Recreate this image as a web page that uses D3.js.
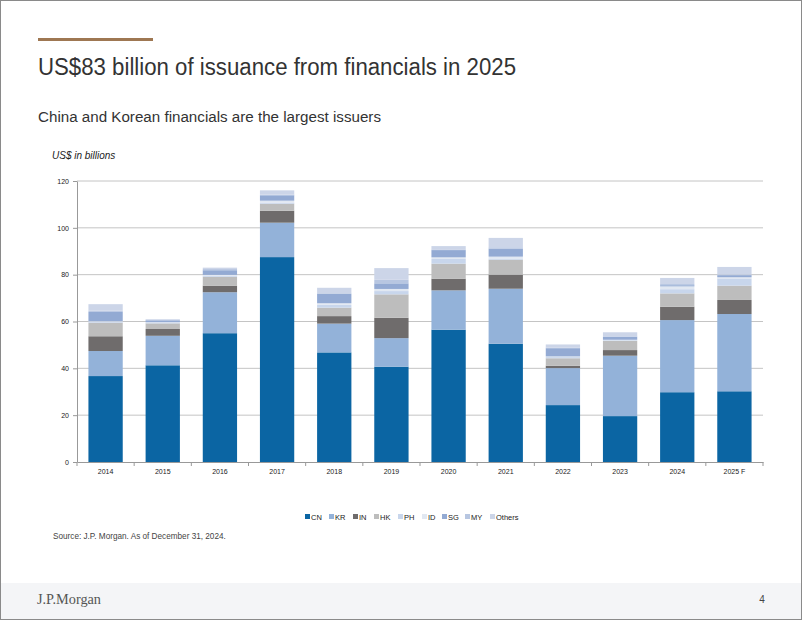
<!DOCTYPE html>
<html><head><meta charset="utf-8">
<script src="https://cdn.jsdelivr.net/npm/d3@7"></script>
<style>
html,body{margin:0;padding:0;background:#fff;}
svg{display:block;}
</style></head>
<body>
<script>
const years = ["2014","2015","2016","2017","2018","2019","2020","2021","2022","2023","2024","2025 F"];
const seriesNames = ["CN","KR","IN","HK","PH","ID","SG","MY","Others"];
const CN     = [36.7, 41.3, 55.0, 87.5, 46.8, 40.7, 56.5, 50.5, 24.3, 19.6, 29.8, 30.2];
const KR     = [10.7, 12.6, 17.5, 14.7, 12.3, 12.2, 16.8, 23.5, 15.8, 25.8, 30.8, 33.0];
const IN     = [ 6.3,  2.9,  2.8,  5.1,  3.2,  8.7,  5.0,  6.0,  1.0,  2.4,  5.7,  6.0];
const HK     = [ 5.8,  2.4,  3.8,  3.0,  3.6, 10.0,  6.4,  6.4,  3.2,  3.9,  5.7,  6.1];
const PH     = [ 0.3,  0.3,  0.5,  0.5,  1.2,  1.4,  2.0,  0.5,  0.5,  0.3,  1.8,  3.1];
const ID     = [ 0.3,  0.2,  0.3,  0.8,  0.7,  0.9,  0.7,  0.8,  0.3,  0.2,  1.2,  0.5];
const SG     = [ 4.0,  0.8,  2.0,  2.3,  4.0,  2.4,  3.1,  3.4,  3.5,  1.3,  0.5,  0.9];
const MY     = [ 0.5,  0.2,  0.5,  0.3,  0.3,  1.5,  0.3,  0.6,  0.3,  0.2,  0.5,  0.3];
const Others = [ 2.8,  0.3,  0.6,  1.8,  2.3,  5.0,  1.4,  4.0,  1.3,  1.7,  2.6,  3.2];
const yTicks = [0,20,40,60,80,100,120];

const colors = ["#0b65a3","#93b2d9","#6f6c6c","#bdbdbd","#c8d6ec","#e1e8f2","#93aad3","#b7c6e1","#ccd5e8"];

const W = 802, H = 620;
const svg = d3.select("body").append("svg").attr("width", W).attr("height", H);

// page
svg.append("rect").attr("x",0).attr("y",0).attr("width",W).attr("height",H).attr("fill","#fff");
svg.append("rect").attr("x",0).attr("y",583).attr("width",W).attr("height",37).attr("fill","#f4f5f7");
svg.append("rect").attr("x",0.5).attr("y",0.5).attr("width",W-1).attr("height",H-1)
   .attr("fill","none").attr("stroke","#8a8a8a").attr("stroke-width",1);

svg.append("rect").attr("x",38).attr("y",38).attr("width",115).attr("height",3).attr("fill","#9e7752");
svg.append("text").attr("x",38).attr("y",75).text("US$83 billion of issuance from financials in 2025")
  .attr("font-family","Liberation Sans, Arial, sans-serif").attr("font-size",23).attr("fill","#333")
  .attr("textLength",478).attr("lengthAdjust","spacingAndGlyphs");
svg.append("text").attr("x",38).attr("y",122).text("China and Korean financials are the largest issuers")
  .attr("font-family","Liberation Sans, Arial, sans-serif").attr("font-size",15.5).attr("fill","#333")
  .attr("textLength",343).attr("lengthAdjust","spacingAndGlyphs");
svg.append("text").attr("x",52).attr("y",159).text("US$ in billions")
  .attr("font-family","Liberation Sans, Arial, sans-serif").attr("font-size",10).attr("font-style","italic").attr("fill","#222");

svg.append("text").attr("x",53).attr("y",539).text("Source: J.P. Morgan. As of December 31, 2024.")
  .attr("font-family","Liberation Sans, Arial, sans-serif").attr("font-size",8.2).attr("fill","#444");
svg.append("text").attr("x",37).attr("y",604).text("J.P.Morgan")
  .attr("font-family","Liberation Serif, Times New Roman, serif").attr("font-size",15).attr("fill","#555")
  .attr("textLength",64).attr("lengthAdjust","spacingAndGlyphs");
svg.append("text").attr("x",762).attr("y",603).attr("text-anchor","middle").text("4")
  .attr("font-family","Liberation Sans, Arial, sans-serif").attr("font-size",10).attr("fill","#444");

// chart
const pLeft = 77, pRight = 763, pTop = 181, pBottom = 462;
const x = d3.scaleBand().domain(years).range([pLeft, pRight]).paddingInner(0.4).paddingOuter(0.2);
const y = d3.scaleLinear().domain([0,120]).range([pBottom, pTop]);

const g = svg.append("g");
g.selectAll("line.grid").data(yTicks.filter(d=>d>0)).enter().append("line")
  .attr("x1",pLeft).attr("x2",pRight).attr("y1",d=>y(d)).attr("y2",d=>y(d))
  .attr("stroke","#c4c4c4").attr("stroke-width",1);

const table = years.map((yr,i)=>({year: yr, CN:CN[i], KR:KR[i], IN:IN[i], HK:HK[i], PH:PH[i], ID:ID[i], SG:SG[i], MY:MY[i], Others:Others[i]}));
const stack = d3.stack().keys(seriesNames)(table);
const color = d3.scaleOrdinal().domain(seriesNames).range(colors);

g.selectAll("g.layer").data(stack).enter().append("g").attr("fill",d=>color(d.key))
  .selectAll("rect").data(d=>d).enter().append("rect")
  .attr("x",d=>x(d.data.year)).attr("width",x.bandwidth())
  .attr("y",d=>y(d[1])).attr("height",d=>Math.max(0,y(d[0])-y(d[1])));

// axes
const yAxis = d3.axisLeft(y).tickValues(yTicks).tickSize(4).tickSizeOuter(0);
const ya = svg.append("g").attr("transform",`translate(${pLeft},0)`).call(yAxis);
ya.select(".domain").attr("stroke","#999");
ya.selectAll(".tick line").attr("stroke","#999");
ya.selectAll("text").attr("font-family","Liberation Sans, Arial, sans-serif").attr("font-size",7).attr("fill","#222").attr("dx",-1);

const xa = svg.append("g").attr("transform",`translate(0,${pBottom})`).call(d3.axisBottom(x).tickSize(0).tickSizeOuter(0));
xa.select(".domain").attr("stroke","#999");
xa.selectAll("text").attr("font-family","Liberation Sans, Arial, sans-serif").attr("font-size",7).attr("fill","#222").attr("dy","1.3em");
const step = x.step();
const bounds = years.map((yr)=>x(yr) - (step - x.bandwidth())/2).concat([pRight]);
svg.append("g").selectAll("line").data(bounds).enter().append("line")
  .attr("x1",d=>d).attr("x2",d=>d).attr("y1",pBottom).attr("y2",pBottom+4).attr("stroke","#999");

// legend
const lg = svg.append("g").attr("transform","translate(305,517)");
const widths = [24,24,21,24,24,20,23,25,30];
let lx = 0;
seriesNames.forEach((s,i)=>{
  lg.append("rect").attr("x",lx).attr("y",-3).attr("width",5).attr("height",5).attr("fill",colors[i]);
  lg.append("text").attr("x",lx+6).attr("y",2.5).text(s)
    .attr("font-family","Liberation Sans, Arial, sans-serif").attr("font-size",7.5).attr("fill","#222");
  lx += widths[i];
});
</script>
</body></html>
